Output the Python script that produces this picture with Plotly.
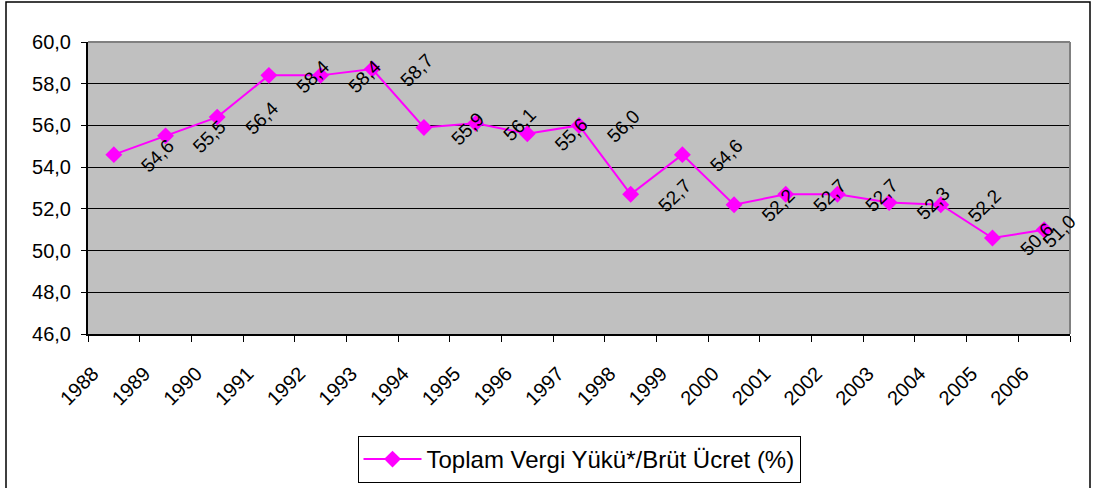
import plotly.graph_objects as go

years = ["1988", "1989", "1990", "1991", "1992", "1993", "1994", "1995", "1996", "1997",
         "1998", "1999", "2000", "2001", "2002", "2003", "2004", "2005", "2006"]
values = [54.6, 55.5, 56.4, 58.4, 58.4, 58.7, 55.9, 56.1, 55.6, 56.0,
          52.7, 54.6, 52.2, 52.7, 52.7, 52.3, 52.2, 50.6, 51.0]
series_name = "Toplam Vergi Yükü*/Brüt Ücret (%)"
y_min, y_max, y_step = 46, 60, 2

W, H = 1093, 488
L, R, T, B = 88, 23, 42, 154
pw, ph = W - L - R, H - T - B

def px(xp):
    return (xp - L) / pw

def py(yp):
    return (H - B - yp) / ph

FONT = "Liberation Sans, Arial, sans-serif"

fig = go.Figure()
fig.add_trace(go.Scatter(
    x=years, y=values, mode="lines+markers", name=series_name,
    line=dict(color="#FF00FF", width=2),
    marker=dict(symbol="diamond", size=13, color="#FF00FF"),
))

n = len(values)
for i, v in enumerate(values):
    last = i == n - 1
    fig.add_annotation(
        x=i, y=v, xref="x", yref="y",
        text=f"{v:.1f}".replace(".", ","), showarrow=False,
        textangle=-45, xshift=15 if last else 44, yshift=-2 if last else -1,
        font=dict(family=FONT, size=19, color="black"),
    )

# plot-area gray border (top, right)
fig.add_shape(type="line", xref="paper", yref="paper", x0=0, y0=1, x1=1, y1=1,
              line=dict(color="#808080", width=2), layer="above")
fig.add_shape(type="line", xref="paper", yref="paper", x0=1, y0=0, x1=1, y1=1,
              line=dict(color="#808080", width=2), layer="above")
# chart outer border
fig.add_shape(type="rect", xref="paper", yref="paper",
              x0=px(6), y0=py(492), x1=px(1090), y1=py(2),
              line=dict(color="black", width=1.5), layer="below")

fig.update_layout(
    width=W, height=H,
    margin=dict(l=L, r=R, t=T, b=B, autoexpand=False),
    paper_bgcolor="white", plot_bgcolor="#C0C0C0",
    separators=",.",
    font=dict(family=FONT, size=19, color="black"),
    showlegend=True,
    legend=dict(
        x=0.5, xanchor="center", y=py(436), yanchor="top",
        bgcolor="white", bordercolor="black", borderwidth=1,
        font=dict(family=FONT, size=24, color="black"),
        orientation="h", itemwidth=58,
    ),
    xaxis=dict(
        type="category", tickangle=-45, tickson="boundaries",
        ticks="outside", ticklen=6, tickcolor="black", tickwidth=1,
        ticklabelstandoff=18, ticklabelshift=-21,
        showline=True, linecolor="black", linewidth=2,
        showgrid=False, zeroline=False, automargin=False,
        tickfont=dict(family=FONT, size=20, color="black"),
        range=[-0.5, len(years) - 0.5],
    ),
    yaxis=dict(
        range=[y_min, y_max], dtick=y_step, tick0=y_min, tickformat=".1f",
        ticks="outside", ticklen=5, tickcolor="black", tickwidth=1,
        ticklabelstandoff=6, automargin=False,
        showline=True, linecolor="black", linewidth=2,
        showgrid=True, gridcolor="black", gridwidth=1,
        zeroline=False,
        tickfont=dict(family=FONT, size=20, color="black"),
    ),
)

fig.write_html("out.html", config={"displayModeBar": False},
               post_script="document.body.style.margin='0';document.body.style.overflow='hidden';")
